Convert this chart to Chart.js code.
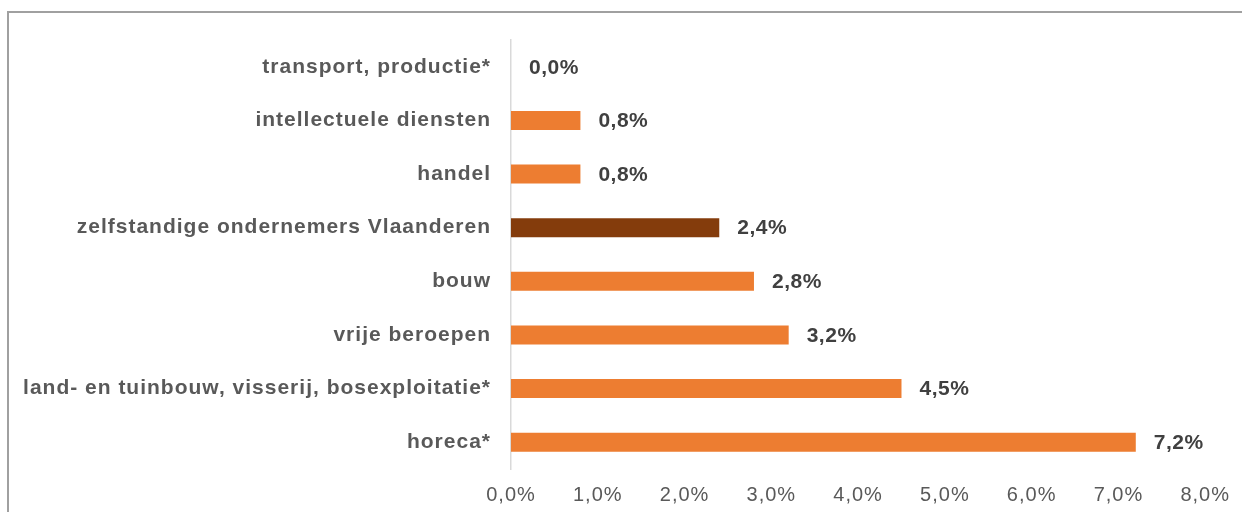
<!DOCTYPE html>
<html>
<head>
<meta charset="utf-8">
<script src="https://cdn.jsdelivr.net/npm/chart.js@4"></script>
<style>
  html, body { margin: 0; padding: 0; background: #fff; }
  #wrap { position: relative; width: 1242px; height: 512px; overflow: hidden; }
  #frame { position: absolute; left: 7px; top: 11px; width: 1400px; height: 700px; border: 2px solid #a0a0a0; box-sizing: border-box; }
  #sectorChart { position: absolute; left: 0; top: 0; }
</style>
</head>
<body>
<div id="wrap">
  <div id="frame"></div>
  <canvas id="sectorChart" width="1242" height="512"></canvas>
</div>
<script>
const sectors = [
  'transport, productie*',
  'intellectuele diensten',
  'handel',
  'zelfstandige ondernemers Vlaanderen',
  'bouw',
  'vrije beroepen',
  'land- en tuinbouw, visserij, bosexploitatie*',
  'horeca*'
];
const shares = [0.0, 0.8, 0.8, 2.4, 2.8, 3.2, 4.5, 7.2];
const barColors = ['#ED7D31', '#ED7D31', '#ED7D31', '#843C0C', '#ED7D31', '#ED7D31', '#ED7D31', '#ED7D31'];
const xTicks = [0, 1, 2, 3, 4, 5, 6, 7, 8];

const fmt = v => v.toFixed(1).replace('.', ',') + '%';

// wider letter spacing for the axis text, like the original
const textSpacing = {
    id: 'textSpacing',
    beforeDraw(chart) {
        chart.ctx.letterSpacing = '1px';
    },
    afterDraw(chart) {
        chart.ctx.letterSpacing = '0px';
    }
};

// draws the value next to each bar
const valueLabels = {
    id: 'valueLabels',
    afterDatasetsDraw(chart) {
        const ctx = chart.ctx;
        const meta = chart.getDatasetMeta(0);
        ctx.save();
        ctx.letterSpacing = '0.5px';
        ctx.font = 'bold 21px "Liberation Sans", Arial, sans-serif';
        ctx.fillStyle = '#404040';
        ctx.textAlign = 'left';
        ctx.textBaseline = 'middle';
        meta.data.forEach((bar, i) => {
            ctx.fillText(fmt(shares[i]), bar.x + 18, bar.y + 1);
        });
        ctx.restore();
    }
};

new Chart(document.getElementById('sectorChart').getContext('2d'), {
    type: 'bar',
    data: {
        labels: sectors,
        datasets: [{
            data: shares,
            backgroundColor: barColors,
            barPercentage: 0.355,
            categoryPercentage: 1
        }]
    },
    options: {
        indexAxis: 'y',
        responsive: false,
        animation: false,
        layout: {
            padding: { top: 40, right: 35, left: 0, bottom: 0 }
        },
        scales: {
            x: {
                min: 0,
                max: 8,
                afterBuildTicks: scale => { scale.ticks = xTicks.map(v => ({ value: v })); },
                afterFit: scale => { scale.height = 43; },
                grid: { display: false, drawTicks: false },
                border: { display: false },
                ticks: {
                    padding: 14,
                    color: '#595959',
                    font: { family: '"Liberation Sans", Arial, sans-serif', size: 20 },
                    callback: v => fmt(v)
                }
            },
            y: {
                afterFit: scale => { scale.width = 511; },
                grid: { display: false, drawTicks: false },
                border: { display: true, color: '#d9d9d9', width: 1.5 },
                ticks: {
                    padding: 20,
                    color: '#595959',
                    font: { family: '"Liberation Sans", Arial, sans-serif', size: 21, weight: 'bold' }
                }
            }
        },
        plugins: {
            legend: { display: false },
            tooltip: { enabled: false }
        }
    },
    plugins: [textSpacing, valueLabels]
});
</script>
</body>
</html>
